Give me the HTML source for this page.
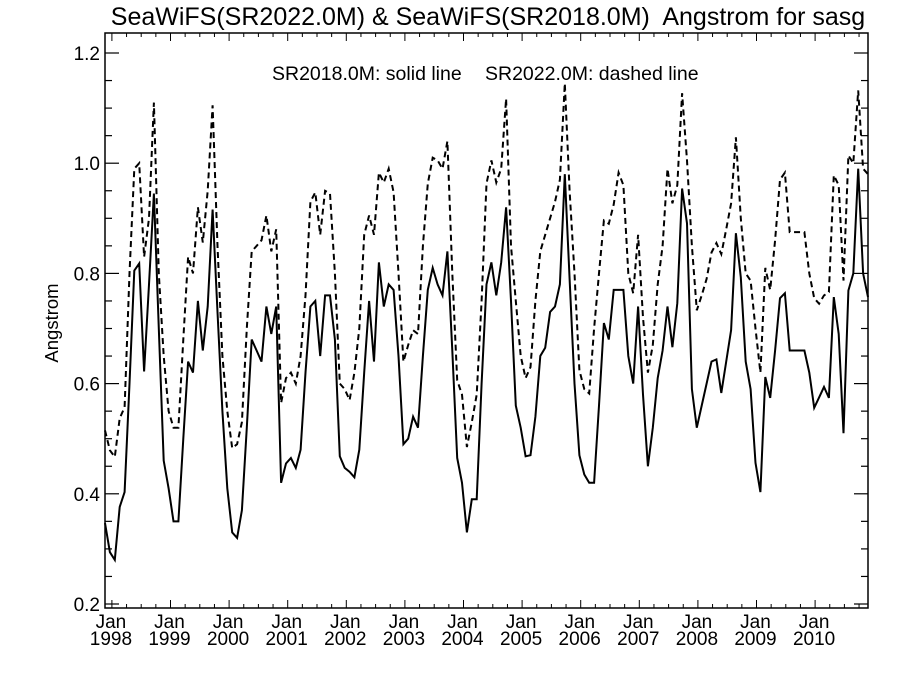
<!DOCTYPE html>
<html><head><meta charset="utf-8"><style>
html,body{margin:0;padding:0;background:#fff;}
svg{display:block;font-family:"Liberation Sans",sans-serif;}
</style></head><body>
<svg id="chart" width="900" height="675" viewBox="0 0 900 675" xmlns="http://www.w3.org/2000/svg">
<rect x="0" y="0" width="900" height="675" fill="#fff"/>
<text x="488" y="25" font-size="25" text-anchor="middle">SeaWiFS(SR2022.0M) &amp; SeaWiFS(SR2018.0M)&#160; Angstrom for sasg</text>
<text x="272" y="80" font-size="19.5">SR2018.0M: solid line</text>
<text x="485" y="80" font-size="19.5">SR2022.0M: dashed line</text>
<text x="0" y="0" font-size="18.5" text-anchor="middle" transform="translate(58,323) rotate(-90)">Angstrom</text>
<g id="axes"></g>
<g id="series"></g>
<rect x="105" y="33" width="763" height="575" fill="none" stroke="#000" stroke-width="1.5"/>
</svg>
<script>
const years = ["1998","1999","2000","2001","2002","2003","2004","2005","2006","2007","2008","2009","2010"];
const yTicks = [0.2,0.4,0.6,0.8,1.0,1.2];
const yTickLabels = ["0.2","0.4","0.6","0.8","1.0","1.2"];
const solid = [.347,.294,.28,.376,.403,.60,.805,.818,.622,.78,.945,.70,
.46,.41,.35,.35,.50,.64,.62,.75,.66,.74,.916,.73,
.55,.41,.33,.32,.37,.52,.68,.66,.64,.74,.69,.74,
.42,.455,.465,.447,.48,.62,.74,.75,.65,.76,.76,.68,
.468,.447,.44,.43,.48,.62,.75,.64,.82,.74,.78,.77,
.65,.49,.50,.54,.52,.65,.77,.81,.78,.76,.84,.66,
.465,.42,.33,.39,.39,.60,.78,.82,.76,.82,.92,.75,
.56,.52,.468,.47,.54,.65,.665,.73,.74,.78,.98,.79,
.60,.47,.435,.42,.42,.56,.71,.68,.77,.77,.77,.65,
.60,.74,.58,.45,.52,.61,.66,.74,.666,.746,.954,.891,
.59,.52,.56,.60,.64,.644,.583,.64,.697,.873,.793,.64,
.59,.456,.403,.612,.574,.66,.755,.764,.66,.66,.66,.66,
.62,.556,.575,.594,.574,.757,.69,.51,.769,.80,.99,.80,.757];
const dashed = [.515,.479,.467,.537,.557,.80,.99,1.0,.83,.90,1.11,.80,
.65,.55,.52,.52,.68,.83,.80,.92,.856,.95,1.105,.85,
.65,.55,.483,.49,.53,.70,.84,.85,.86,.905,.84,.88,
.565,.61,.62,.60,.65,.76,.93,.947,.87,.95,.945,.80,
.60,.59,.57,.62,.70,.87,.905,.87,.983,.965,.99,.947,
.80,.64,.67,.697,.69,.85,.963,1.01,1.005,.99,1.04,.80,
.606,.58,.485,.53,.58,.75,.963,1.005,.965,.99,1.117,.85,
.75,.65,.61,.63,.75,.84,.87,.90,.93,.97,1.145,.95,
.80,.624,.59,.582,.70,.80,.896,.89,.925,.983,.96,.80,
.764,.87,.72,.62,.67,.78,.85,.99,.927,.96,1.127,1.005,
.85,.733,.76,.79,.838,.855,.835,.88,.927,1.047,.90,.80,
.787,.70,.62,.81,.77,.86,.97,.983,.875,.875,.875,.875,
.80,.755,.745,.76,.766,.978,.96,.787,1.014,1.0,1.132,.99,.98];

const NS="http://www.w3.org/2000/svg";
const L=105,R=868,T=33,B=608;
function xScale(i){return L+i*(R-L)/156;}
function yScale(v){return 604-(v-0.2)*551;}
function xYear(k){return 111.9+k*58.6;}
function mk(tag,attrs,parent){const e=document.createElementNS(NS,tag);for(const k in attrs)e.setAttribute(k,attrs[k]);parent.appendChild(e);return e;}
const axes=document.getElementById('axes');
for(let v=0.2;v<=1.2001;v+=0.05){
  const y=yScale(v);const major=Math.abs(Math.round(v*5)-v*5)<1e-6;const len=major?14:7;
  const t1=mk('line',{x1:L,x2:L+len,y1:y,y2:y,stroke:'#000','stroke-width':1.2},axes);
  
  
  const t2=mk('line',{x1:R,x2:R-len,y1:y,y2:y,stroke:'#000','stroke-width':1.2},axes);
  
  
}
yTicks.forEach((v,j)=>{
  const t=mk('text',{x:L-5,y:yScale(v)+7,'font-size':19,'text-anchor':'end'},axes);
  t.textContent=yTickLabels[j];
  
  
});
for(let q=-1;q<=52;q++){
  const x=xYear(q/4);if(x<=L+0.5||x>=R)continue;const major=q%4===0;const len=major?8:4;
  const a=mk('line',{x1:x,x2:x,y1:B,y2:B-len,stroke:'#000','stroke-width':1},axes);
  
  
  const b=mk('line',{x1:x,x2:x,y1:T,y2:T+len,stroke:'#000','stroke-width':1},axes);
  
  
}
years.forEach((yr,k)=>{
  const x=xYear(k)-1;
  const a=mk('text',{x:x,y:628,'font-size':19,'text-anchor':'middle'},axes);a.textContent='Jan';
  
  
  const b=mk('text',{x:x,y:645,'font-size':19,'text-anchor':'middle'},axes);b.textContent=yr;
  
  
});
const ser=document.getElementById('series');
function path(arr){return arr.map((v,i)=>(i?'L':'M')+xScale(i).toFixed(1)+','+yScale(v).toFixed(1)).join(' ');}
const pd=mk('path',{d:path(dashed),fill:'none',stroke:'#000','stroke-width':2,'stroke-dasharray':'6,4'},ser);


const ps=mk('path',{d:path(solid),fill:'none',stroke:'#000','stroke-width':2},ser);


</script>
</body></html>
